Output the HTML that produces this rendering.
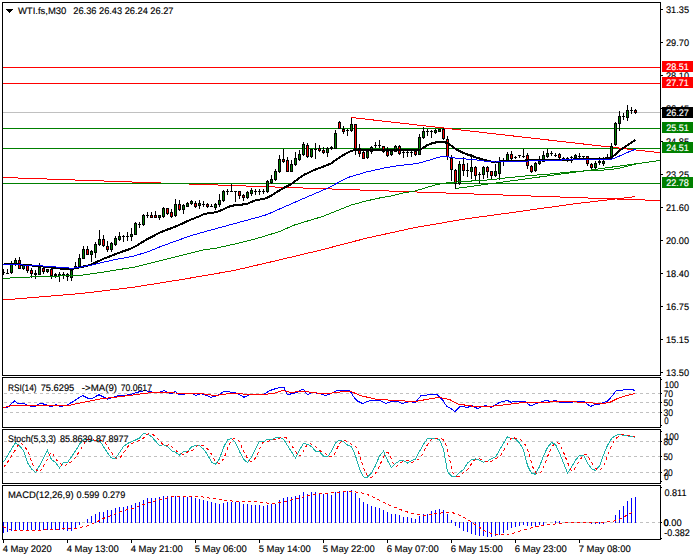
<!DOCTYPE html>
<html><head><meta charset="utf-8"><title>WTI.fs M30</title>
<style>html,body{margin:0;padding:0;background:#fff}svg{display:block}text{white-space:pre}</style></head>
<body>
<svg width="700" height="560" viewBox="0 0 700 560" font-family="'Liberation Sans', sans-serif" shape-rendering="crispEdges" text-rendering="geometricPrecision">
<rect width="700" height="560" fill="#fff"/>
<g clip-path="url(#cm)">
<defs><clipPath id="cm"><rect x="3" y="3" width="657" height="372"/></clipPath></defs>
<polyline points="3.00,177.47 660.00,200.53" fill="none" stroke="#ff0000" stroke-width="1" />
<rect x="3" y="67" width="657" height="1" fill="#ff0000"/>
<rect x="3" y="83" width="657" height="1" fill="#ff0000"/>
<rect x="3" y="112" width="657" height="1" fill="#c0c0c0"/>
<rect x="3" y="128" width="657" height="1" fill="#008000"/>
<rect x="3" y="148" width="657" height="1" fill="#008000"/>
<rect x="3" y="183" width="657" height="1" fill="#008000"/>
<polyline points="351.00,117.43 660.00,152.75" fill="none" stroke="#ff0000" stroke-width="1" />
<polyline points="455.30,188.55 660.00,160.50" fill="none" stroke="#008000" stroke-width="1" />
<rect x="3" y="269" width="1" height="6" fill="#000"/>
<rect x="2" y="272" width="3" height="1" fill="#000"/>
<rect x="7" y="269" width="1" height="5" fill="#000"/>
<rect x="6" y="273" width="3" height="1" fill="#000"/>
<rect x="11" y="261" width="1" height="13" fill="#000"/>
<rect x="10" y="264" width="3" height="9" fill="#000"/>
<rect x="11" y="265" width="1" height="7" fill="#008000"/>
<rect x="15" y="258" width="1" height="8" fill="#000"/>
<rect x="14" y="260" width="3" height="5" fill="#000"/>
<rect x="15" y="261" width="1" height="3" fill="#008000"/>
<rect x="19" y="257" width="1" height="12" fill="#000"/>
<rect x="18" y="260" width="3" height="9" fill="#000"/>
<rect x="19" y="261" width="1" height="7" fill="#ff0000"/>
<rect x="23" y="264" width="1" height="6" fill="#000"/>
<rect x="22" y="265" width="3" height="4" fill="#000"/>
<rect x="23" y="266" width="1" height="2" fill="#008000"/>
<rect x="27" y="264" width="1" height="9" fill="#000"/>
<rect x="26" y="265" width="3" height="6" fill="#000"/>
<rect x="27" y="266" width="1" height="4" fill="#ff0000"/>
<rect x="31" y="268" width="1" height="10" fill="#000"/>
<rect x="30" y="270" width="3" height="4" fill="#000"/>
<rect x="31" y="271" width="1" height="2" fill="#ff0000"/>
<rect x="35" y="270" width="1" height="9" fill="#000"/>
<rect x="34" y="273" width="3" height="2" fill="#000"/>
<rect x="39" y="263" width="1" height="12" fill="#000"/>
<rect x="38" y="267" width="3" height="8" fill="#000"/>
<rect x="39" y="268" width="1" height="6" fill="#008000"/>
<rect x="43" y="267" width="1" height="7" fill="#000"/>
<rect x="42" y="268" width="3" height="4" fill="#000"/>
<rect x="43" y="269" width="1" height="2" fill="#ff0000"/>
<rect x="47" y="269" width="1" height="4" fill="#000"/>
<rect x="46" y="269" width="3" height="3" fill="#000"/>
<rect x="47" y="270" width="1" height="1" fill="#008000"/>
<rect x="51" y="268" width="1" height="11" fill="#000"/>
<rect x="50" y="269" width="3" height="7" fill="#000"/>
<rect x="51" y="270" width="1" height="5" fill="#ff0000"/>
<rect x="55" y="273" width="1" height="5" fill="#000"/>
<rect x="54" y="274" width="3" height="2" fill="#000"/>
<rect x="59" y="272" width="1" height="10" fill="#000"/>
<rect x="58" y="274" width="3" height="2" fill="#000"/>
<rect x="63" y="272" width="1" height="7" fill="#000"/>
<rect x="62" y="274" width="3" height="2" fill="#000"/>
<rect x="67" y="273" width="1" height="8" fill="#000"/>
<rect x="66" y="274" width="3" height="3" fill="#000"/>
<rect x="67" y="275" width="1" height="1" fill="#ff0000"/>
<rect x="71" y="270" width="1" height="11" fill="#000"/>
<rect x="70" y="270" width="3" height="8" fill="#000"/>
<rect x="71" y="271" width="1" height="6" fill="#008000"/>
<rect x="75" y="262" width="1" height="7" fill="#000"/>
<rect x="74" y="266" width="3" height="2" fill="#000"/>
<rect x="79" y="254" width="1" height="13" fill="#000"/>
<rect x="78" y="258" width="3" height="9" fill="#000"/>
<rect x="79" y="259" width="1" height="7" fill="#008000"/>
<rect x="83" y="246" width="1" height="13" fill="#000"/>
<rect x="82" y="249" width="3" height="10" fill="#000"/>
<rect x="83" y="250" width="1" height="8" fill="#008000"/>
<rect x="87" y="246" width="1" height="9" fill="#000"/>
<rect x="86" y="249" width="3" height="6" fill="#000"/>
<rect x="87" y="250" width="1" height="4" fill="#ff0000"/>
<rect x="91" y="250" width="1" height="12" fill="#000"/>
<rect x="90" y="251" width="3" height="4" fill="#000"/>
<rect x="91" y="252" width="1" height="2" fill="#008000"/>
<rect x="95" y="242" width="1" height="16" fill="#000"/>
<rect x="94" y="244" width="3" height="9" fill="#000"/>
<rect x="95" y="245" width="1" height="7" fill="#008000"/>
<rect x="99" y="230" width="1" height="16" fill="#000"/>
<rect x="98" y="239" width="3" height="6" fill="#000"/>
<rect x="99" y="240" width="1" height="4" fill="#008000"/>
<rect x="103" y="235" width="1" height="12" fill="#000"/>
<rect x="102" y="239" width="3" height="7" fill="#000"/>
<rect x="103" y="240" width="1" height="5" fill="#ff0000"/>
<rect x="107" y="241" width="1" height="11" fill="#000"/>
<rect x="106" y="246" width="3" height="4" fill="#000"/>
<rect x="107" y="247" width="1" height="2" fill="#ff0000"/>
<rect x="111" y="242" width="1" height="10" fill="#000"/>
<rect x="110" y="243" width="3" height="7" fill="#000"/>
<rect x="111" y="244" width="1" height="5" fill="#008000"/>
<rect x="115" y="236" width="1" height="10" fill="#000"/>
<rect x="114" y="238" width="3" height="7" fill="#000"/>
<rect x="115" y="239" width="1" height="5" fill="#008000"/>
<rect x="119" y="232" width="1" height="9" fill="#000"/>
<rect x="118" y="236" width="3" height="4" fill="#000"/>
<rect x="119" y="237" width="1" height="2" fill="#008000"/>
<rect x="123" y="235" width="1" height="7" fill="#000"/>
<rect x="122" y="236" width="3" height="1" fill="#000"/>
<rect x="127" y="232" width="1" height="9" fill="#000"/>
<rect x="126" y="236" width="3" height="1" fill="#000"/>
<rect x="131" y="228" width="1" height="13" fill="#000"/>
<rect x="130" y="234" width="3" height="3" fill="#000"/>
<rect x="131" y="235" width="1" height="1" fill="#008000"/>
<rect x="135" y="222" width="1" height="13" fill="#000"/>
<rect x="134" y="223" width="3" height="12" fill="#000"/>
<rect x="135" y="224" width="1" height="10" fill="#008000"/>
<rect x="139" y="222" width="1" height="6" fill="#000"/>
<rect x="138" y="224" width="3" height="1" fill="#000"/>
<rect x="143" y="214" width="1" height="12" fill="#000"/>
<rect x="142" y="215" width="3" height="10" fill="#000"/>
<rect x="143" y="216" width="1" height="8" fill="#008000"/>
<rect x="147" y="212" width="1" height="6" fill="#000"/>
<rect x="146" y="215" width="3" height="1" fill="#000"/>
<rect x="151" y="212" width="1" height="6" fill="#000"/>
<rect x="150" y="215" width="3" height="3" fill="#000"/>
<rect x="151" y="216" width="1" height="1" fill="#ff0000"/>
<rect x="155" y="211" width="1" height="7" fill="#000"/>
<rect x="154" y="215" width="3" height="3" fill="#000"/>
<rect x="155" y="216" width="1" height="1" fill="#ff0000"/>
<rect x="159" y="215" width="1" height="5" fill="#000"/>
<rect x="158" y="215" width="3" height="3" fill="#000"/>
<rect x="159" y="216" width="1" height="1" fill="#008000"/>
<rect x="163" y="207" width="1" height="11" fill="#000"/>
<rect x="162" y="208" width="3" height="9" fill="#000"/>
<rect x="163" y="209" width="1" height="7" fill="#008000"/>
<rect x="167" y="208" width="1" height="7" fill="#000"/>
<rect x="166" y="208" width="3" height="6" fill="#000"/>
<rect x="167" y="209" width="1" height="4" fill="#ff0000"/>
<rect x="171" y="209" width="1" height="9" fill="#000"/>
<rect x="170" y="212" width="3" height="5" fill="#000"/>
<rect x="171" y="213" width="1" height="3" fill="#ff0000"/>
<rect x="175" y="199" width="1" height="18" fill="#000"/>
<rect x="174" y="204" width="3" height="12" fill="#000"/>
<rect x="175" y="205" width="1" height="10" fill="#008000"/>
<rect x="179" y="200" width="1" height="11" fill="#000"/>
<rect x="178" y="204" width="3" height="6" fill="#000"/>
<rect x="179" y="205" width="1" height="4" fill="#ff0000"/>
<rect x="183" y="204" width="1" height="10" fill="#000"/>
<rect x="182" y="205" width="3" height="5" fill="#000"/>
<rect x="183" y="206" width="1" height="3" fill="#008000"/>
<rect x="187" y="202" width="1" height="5" fill="#000"/>
<rect x="186" y="203" width="3" height="4" fill="#000"/>
<rect x="187" y="204" width="1" height="2" fill="#008000"/>
<rect x="191" y="200" width="1" height="5" fill="#000"/>
<rect x="190" y="201" width="3" height="3" fill="#000"/>
<rect x="191" y="202" width="1" height="1" fill="#008000"/>
<rect x="195" y="201" width="1" height="7" fill="#000"/>
<rect x="194" y="203" width="3" height="4" fill="#000"/>
<rect x="195" y="204" width="1" height="2" fill="#ff0000"/>
<rect x="199" y="200" width="1" height="9" fill="#000"/>
<rect x="198" y="203" width="3" height="3" fill="#000"/>
<rect x="199" y="204" width="1" height="1" fill="#008000"/>
<rect x="203" y="201" width="1" height="6" fill="#000"/>
<rect x="202" y="204" width="3" height="1" fill="#000"/>
<rect x="207" y="203" width="1" height="5" fill="#000"/>
<rect x="206" y="204" width="3" height="3" fill="#000"/>
<rect x="207" y="205" width="1" height="1" fill="#ff0000"/>
<rect x="211" y="204" width="1" height="3" fill="#000"/>
<rect x="210" y="206" width="3" height="1" fill="#000"/>
<rect x="215" y="203" width="1" height="7" fill="#000"/>
<rect x="214" y="204" width="3" height="4" fill="#000"/>
<rect x="215" y="205" width="1" height="2" fill="#008000"/>
<rect x="219" y="194" width="1" height="13" fill="#000"/>
<rect x="218" y="200" width="3" height="5" fill="#000"/>
<rect x="219" y="201" width="1" height="3" fill="#008000"/>
<rect x="223" y="190" width="1" height="12" fill="#000"/>
<rect x="222" y="191" width="3" height="10" fill="#000"/>
<rect x="223" y="192" width="1" height="8" fill="#008000"/>
<rect x="227" y="189" width="1" height="6" fill="#000"/>
<rect x="226" y="191" width="3" height="1" fill="#000"/>
<rect x="231" y="184" width="1" height="8" fill="#000"/>
<rect x="230" y="191" width="3" height="1" fill="#000"/>
<rect x="235" y="191" width="1" height="11" fill="#000"/>
<rect x="234" y="191" width="3" height="1" fill="#000"/>
<rect x="239" y="191" width="1" height="8" fill="#000"/>
<rect x="238" y="191" width="3" height="5" fill="#000"/>
<rect x="239" y="192" width="1" height="3" fill="#ff0000"/>
<rect x="243" y="194" width="1" height="7" fill="#000"/>
<rect x="242" y="195" width="3" height="3" fill="#000"/>
<rect x="243" y="196" width="1" height="1" fill="#ff0000"/>
<rect x="247" y="191" width="1" height="8" fill="#000"/>
<rect x="246" y="192" width="3" height="6" fill="#000"/>
<rect x="247" y="193" width="1" height="4" fill="#008000"/>
<rect x="251" y="188" width="1" height="8" fill="#000"/>
<rect x="250" y="190" width="3" height="4" fill="#000"/>
<rect x="251" y="191" width="1" height="2" fill="#008000"/>
<rect x="255" y="189" width="1" height="6" fill="#000"/>
<rect x="254" y="191" width="3" height="1" fill="#000"/>
<rect x="259" y="189" width="1" height="6" fill="#000"/>
<rect x="258" y="191" width="3" height="1" fill="#000"/>
<rect x="263" y="189" width="1" height="5" fill="#000"/>
<rect x="262" y="191" width="3" height="1" fill="#000"/>
<rect x="267" y="180" width="1" height="13" fill="#000"/>
<rect x="266" y="181" width="3" height="11" fill="#000"/>
<rect x="267" y="182" width="1" height="9" fill="#008000"/>
<rect x="271" y="175" width="1" height="9" fill="#000"/>
<rect x="270" y="179" width="3" height="4" fill="#000"/>
<rect x="271" y="180" width="1" height="2" fill="#008000"/>
<rect x="275" y="169" width="1" height="12" fill="#000"/>
<rect x="274" y="171" width="3" height="9" fill="#000"/>
<rect x="275" y="172" width="1" height="7" fill="#008000"/>
<rect x="279" y="155" width="1" height="18" fill="#000"/>
<rect x="278" y="159" width="3" height="13" fill="#000"/>
<rect x="279" y="160" width="1" height="11" fill="#008000"/>
<rect x="283" y="149" width="1" height="14" fill="#000"/>
<rect x="282" y="159" width="3" height="3" fill="#000"/>
<rect x="283" y="160" width="1" height="1" fill="#ff0000"/>
<rect x="287" y="157" width="1" height="15" fill="#000"/>
<rect x="286" y="160" width="3" height="12" fill="#000"/>
<rect x="287" y="161" width="1" height="10" fill="#ff0000"/>
<rect x="291" y="160" width="1" height="12" fill="#000"/>
<rect x="290" y="164" width="3" height="8" fill="#000"/>
<rect x="291" y="165" width="1" height="6" fill="#008000"/>
<rect x="295" y="152" width="1" height="14" fill="#000"/>
<rect x="294" y="158" width="3" height="7" fill="#000"/>
<rect x="295" y="159" width="1" height="5" fill="#008000"/>
<rect x="299" y="150" width="1" height="11" fill="#000"/>
<rect x="298" y="154" width="3" height="6" fill="#000"/>
<rect x="299" y="155" width="1" height="4" fill="#008000"/>
<rect x="303" y="142" width="1" height="14" fill="#000"/>
<rect x="302" y="144" width="3" height="11" fill="#000"/>
<rect x="303" y="145" width="1" height="9" fill="#008000"/>
<rect x="307" y="143" width="1" height="15" fill="#000"/>
<rect x="306" y="145" width="3" height="12" fill="#000"/>
<rect x="307" y="146" width="1" height="10" fill="#ff0000"/>
<rect x="311" y="149" width="1" height="9" fill="#000"/>
<rect x="310" y="149" width="3" height="8" fill="#000"/>
<rect x="311" y="150" width="1" height="6" fill="#008000"/>
<rect x="315" y="143" width="1" height="16" fill="#000"/>
<rect x="314" y="149" width="3" height="1" fill="#000"/>
<rect x="319" y="145" width="1" height="7" fill="#000"/>
<rect x="318" y="148" width="3" height="3" fill="#000"/>
<rect x="319" y="149" width="1" height="1" fill="#ff0000"/>
<rect x="323" y="147" width="1" height="7" fill="#000"/>
<rect x="322" y="150" width="3" height="3" fill="#000"/>
<rect x="323" y="151" width="1" height="1" fill="#ff0000"/>
<rect x="327" y="147" width="1" height="10" fill="#000"/>
<rect x="326" y="148" width="3" height="5" fill="#000"/>
<rect x="327" y="149" width="1" height="3" fill="#008000"/>
<rect x="331" y="146" width="1" height="4" fill="#000"/>
<rect x="330" y="147" width="3" height="2" fill="#000"/>
<rect x="335" y="130" width="1" height="19" fill="#000"/>
<rect x="334" y="133" width="3" height="16" fill="#000"/>
<rect x="335" y="134" width="1" height="14" fill="#008000"/>
<rect x="339" y="121" width="1" height="8" fill="#000"/>
<rect x="338" y="122" width="3" height="7" fill="#000"/>
<rect x="339" y="123" width="1" height="5" fill="#ff0000"/>
<rect x="343" y="126" width="1" height="8" fill="#000"/>
<rect x="342" y="129" width="3" height="3" fill="#000"/>
<rect x="343" y="130" width="1" height="1" fill="#ff0000"/>
<rect x="347" y="129" width="1" height="7" fill="#000"/>
<rect x="346" y="130" width="3" height="1" fill="#000"/>
<rect x="351" y="118" width="1" height="14" fill="#000"/>
<rect x="350" y="124" width="3" height="7" fill="#000"/>
<rect x="351" y="125" width="1" height="5" fill="#008000"/>
<rect x="355" y="124" width="1" height="31" fill="#000"/>
<rect x="354" y="124" width="3" height="25" fill="#000"/>
<rect x="355" y="125" width="1" height="23" fill="#ff0000"/>
<rect x="359" y="144" width="1" height="13" fill="#000"/>
<rect x="358" y="148" width="3" height="6" fill="#000"/>
<rect x="359" y="149" width="1" height="4" fill="#ff0000"/>
<rect x="363" y="151" width="1" height="8" fill="#000"/>
<rect x="362" y="152" width="3" height="7" fill="#000"/>
<rect x="363" y="153" width="1" height="5" fill="#ff0000"/>
<rect x="367" y="151" width="1" height="8" fill="#000"/>
<rect x="366" y="151" width="3" height="7" fill="#000"/>
<rect x="367" y="152" width="1" height="5" fill="#008000"/>
<rect x="371" y="146" width="1" height="8" fill="#000"/>
<rect x="370" y="147" width="3" height="5" fill="#000"/>
<rect x="371" y="148" width="1" height="3" fill="#008000"/>
<rect x="375" y="142" width="1" height="6" fill="#000"/>
<rect x="374" y="145" width="3" height="1" fill="#000"/>
<rect x="379" y="140" width="1" height="8" fill="#000"/>
<rect x="378" y="145" width="3" height="1" fill="#000"/>
<rect x="383" y="146" width="1" height="7" fill="#000"/>
<rect x="382" y="146" width="3" height="6" fill="#000"/>
<rect x="383" y="147" width="1" height="4" fill="#ff0000"/>
<rect x="387" y="147" width="1" height="10" fill="#000"/>
<rect x="386" y="151" width="3" height="5" fill="#000"/>
<rect x="387" y="152" width="1" height="3" fill="#ff0000"/>
<rect x="391" y="150" width="1" height="6" fill="#000"/>
<rect x="390" y="151" width="3" height="4" fill="#000"/>
<rect x="391" y="152" width="1" height="2" fill="#008000"/>
<rect x="395" y="145" width="1" height="7" fill="#000"/>
<rect x="394" y="146" width="3" height="6" fill="#000"/>
<rect x="395" y="147" width="1" height="4" fill="#008000"/>
<rect x="399" y="145" width="1" height="10" fill="#000"/>
<rect x="398" y="146" width="3" height="8" fill="#000"/>
<rect x="399" y="147" width="1" height="6" fill="#ff0000"/>
<rect x="403" y="151" width="1" height="7" fill="#000"/>
<rect x="402" y="152" width="3" height="1" fill="#000"/>
<rect x="407" y="151" width="1" height="6" fill="#000"/>
<rect x="406" y="152" width="3" height="1" fill="#000"/>
<rect x="411" y="151" width="1" height="6" fill="#000"/>
<rect x="410" y="152" width="3" height="1" fill="#000"/>
<rect x="415" y="151" width="1" height="5" fill="#000"/>
<rect x="414" y="151" width="3" height="4" fill="#000"/>
<rect x="415" y="152" width="1" height="2" fill="#ff0000"/>
<rect x="419" y="134" width="1" height="21" fill="#000"/>
<rect x="418" y="137" width="3" height="18" fill="#000"/>
<rect x="419" y="138" width="1" height="16" fill="#008000"/>
<rect x="423" y="127" width="1" height="12" fill="#000"/>
<rect x="422" y="131" width="3" height="7" fill="#000"/>
<rect x="423" y="132" width="1" height="5" fill="#008000"/>
<rect x="427" y="129" width="1" height="7" fill="#000"/>
<rect x="426" y="131" width="3" height="1" fill="#000"/>
<rect x="431" y="130" width="1" height="8" fill="#000"/>
<rect x="430" y="131" width="3" height="1" fill="#000"/>
<rect x="435" y="129" width="1" height="5" fill="#000"/>
<rect x="434" y="130" width="3" height="3" fill="#000"/>
<rect x="435" y="131" width="1" height="1" fill="#008000"/>
<rect x="439" y="129" width="1" height="3" fill="#000"/>
<rect x="438" y="129" width="3" height="3" fill="#000"/>
<rect x="439" y="130" width="1" height="1" fill="#008000"/>
<rect x="443" y="128" width="1" height="12" fill="#000"/>
<rect x="442" y="129" width="3" height="10" fill="#000"/>
<rect x="443" y="130" width="1" height="8" fill="#ff0000"/>
<rect x="447" y="136" width="1" height="24" fill="#000"/>
<rect x="446" y="139" width="3" height="18" fill="#000"/>
<rect x="447" y="140" width="1" height="16" fill="#ff0000"/>
<rect x="451" y="155" width="1" height="26" fill="#000"/>
<rect x="450" y="158" width="3" height="12" fill="#000"/>
<rect x="451" y="159" width="1" height="10" fill="#ff0000"/>
<rect x="455" y="169" width="1" height="20" fill="#000"/>
<rect x="454" y="170" width="3" height="14" fill="#000"/>
<rect x="455" y="171" width="1" height="12" fill="#ff0000"/>
<rect x="459" y="161" width="1" height="24" fill="#000"/>
<rect x="458" y="164" width="3" height="20" fill="#000"/>
<rect x="459" y="165" width="1" height="18" fill="#008000"/>
<rect x="463" y="157" width="1" height="19" fill="#000"/>
<rect x="462" y="164" width="3" height="7" fill="#000"/>
<rect x="463" y="165" width="1" height="5" fill="#ff0000"/>
<rect x="467" y="163" width="1" height="14" fill="#000"/>
<rect x="466" y="170" width="3" height="1" fill="#000"/>
<rect x="471" y="154" width="1" height="25" fill="#000"/>
<rect x="470" y="167" width="3" height="5" fill="#000"/>
<rect x="471" y="168" width="1" height="3" fill="#008000"/>
<rect x="475" y="166" width="1" height="14" fill="#000"/>
<rect x="474" y="167" width="3" height="9" fill="#000"/>
<rect x="475" y="168" width="1" height="7" fill="#ff0000"/>
<rect x="479" y="172" width="1" height="12" fill="#000"/>
<rect x="478" y="174" width="3" height="1" fill="#000"/>
<rect x="483" y="166" width="1" height="13" fill="#000"/>
<rect x="482" y="167" width="3" height="8" fill="#000"/>
<rect x="483" y="168" width="1" height="6" fill="#008000"/>
<rect x="487" y="166" width="1" height="12" fill="#000"/>
<rect x="486" y="167" width="3" height="5" fill="#000"/>
<rect x="487" y="168" width="1" height="3" fill="#ff0000"/>
<rect x="491" y="171" width="1" height="9" fill="#000"/>
<rect x="490" y="171" width="3" height="5" fill="#000"/>
<rect x="491" y="172" width="1" height="3" fill="#ff0000"/>
<rect x="495" y="164" width="1" height="13" fill="#000"/>
<rect x="494" y="171" width="3" height="5" fill="#000"/>
<rect x="495" y="172" width="1" height="3" fill="#008000"/>
<rect x="499" y="157" width="1" height="23" fill="#000"/>
<rect x="498" y="162" width="3" height="12" fill="#000"/>
<rect x="499" y="163" width="1" height="10" fill="#008000"/>
<rect x="503" y="158" width="1" height="8" fill="#000"/>
<rect x="502" y="161" width="3" height="1" fill="#000"/>
<rect x="507" y="152" width="1" height="10" fill="#000"/>
<rect x="506" y="154" width="3" height="8" fill="#000"/>
<rect x="507" y="155" width="1" height="6" fill="#008000"/>
<rect x="511" y="151" width="1" height="9" fill="#000"/>
<rect x="510" y="154" width="3" height="5" fill="#000"/>
<rect x="511" y="155" width="1" height="3" fill="#ff0000"/>
<rect x="515" y="156" width="1" height="3" fill="#000"/>
<rect x="514" y="157" width="3" height="1" fill="#000"/>
<rect x="519" y="155" width="1" height="3" fill="#000"/>
<rect x="518" y="155" width="3" height="1" fill="#000"/>
<rect x="523" y="149" width="1" height="9" fill="#000"/>
<rect x="522" y="156" width="3" height="1" fill="#000"/>
<rect x="527" y="153" width="1" height="16" fill="#000"/>
<rect x="526" y="155" width="3" height="11" fill="#000"/>
<rect x="527" y="156" width="1" height="9" fill="#ff0000"/>
<rect x="531" y="165" width="1" height="8" fill="#000"/>
<rect x="530" y="166" width="3" height="6" fill="#000"/>
<rect x="531" y="167" width="1" height="4" fill="#ff0000"/>
<rect x="535" y="162" width="1" height="10" fill="#000"/>
<rect x="534" y="163" width="3" height="8" fill="#000"/>
<rect x="535" y="164" width="1" height="6" fill="#008000"/>
<rect x="539" y="156" width="1" height="9" fill="#000"/>
<rect x="538" y="161" width="3" height="3" fill="#000"/>
<rect x="539" y="162" width="1" height="1" fill="#008000"/>
<rect x="543" y="151" width="1" height="11" fill="#000"/>
<rect x="542" y="155" width="3" height="7" fill="#000"/>
<rect x="543" y="156" width="1" height="5" fill="#008000"/>
<rect x="547" y="149" width="1" height="9" fill="#000"/>
<rect x="546" y="153" width="3" height="4" fill="#000"/>
<rect x="547" y="154" width="1" height="2" fill="#008000"/>
<rect x="551" y="151" width="1" height="5" fill="#000"/>
<rect x="550" y="153" width="3" height="1" fill="#000"/>
<rect x="555" y="153" width="1" height="4" fill="#000"/>
<rect x="554" y="155" width="3" height="1" fill="#000"/>
<rect x="559" y="153" width="1" height="6" fill="#000"/>
<rect x="558" y="154" width="3" height="4" fill="#000"/>
<rect x="559" y="155" width="1" height="2" fill="#ff0000"/>
<rect x="563" y="157" width="1" height="4" fill="#000"/>
<rect x="562" y="158" width="3" height="1" fill="#000"/>
<rect x="567" y="157" width="1" height="5" fill="#000"/>
<rect x="566" y="158" width="3" height="1" fill="#000"/>
<rect x="571" y="156" width="1" height="7" fill="#000"/>
<rect x="570" y="157" width="3" height="1" fill="#000"/>
<rect x="575" y="154" width="1" height="5" fill="#000"/>
<rect x="574" y="155" width="3" height="3" fill="#000"/>
<rect x="575" y="156" width="1" height="1" fill="#008000"/>
<rect x="579" y="153" width="1" height="6" fill="#000"/>
<rect x="578" y="156" width="3" height="1" fill="#000"/>
<rect x="583" y="156" width="1" height="3" fill="#000"/>
<rect x="582" y="156" width="3" height="1" fill="#000"/>
<rect x="587" y="156" width="1" height="10" fill="#000"/>
<rect x="586" y="156" width="3" height="8" fill="#000"/>
<rect x="587" y="157" width="1" height="6" fill="#ff0000"/>
<rect x="591" y="163" width="1" height="6" fill="#000"/>
<rect x="590" y="164" width="3" height="4" fill="#000"/>
<rect x="591" y="165" width="1" height="2" fill="#ff0000"/>
<rect x="595" y="161" width="1" height="8" fill="#000"/>
<rect x="594" y="163" width="3" height="5" fill="#000"/>
<rect x="595" y="164" width="1" height="3" fill="#008000"/>
<rect x="599" y="157" width="1" height="8" fill="#000"/>
<rect x="598" y="161" width="3" height="2" fill="#000"/>
<rect x="603" y="157" width="1" height="9" fill="#000"/>
<rect x="602" y="161" width="3" height="3" fill="#000"/>
<rect x="603" y="162" width="1" height="1" fill="#008000"/>
<rect x="607" y="154" width="1" height="6" fill="#000"/>
<rect x="606" y="157" width="3" height="3" fill="#000"/>
<rect x="607" y="158" width="1" height="1" fill="#008000"/>
<rect x="611" y="143" width="1" height="16" fill="#000"/>
<rect x="610" y="146" width="3" height="13" fill="#000"/>
<rect x="611" y="147" width="1" height="11" fill="#008000"/>
<rect x="615" y="122" width="1" height="24" fill="#000"/>
<rect x="614" y="123" width="3" height="22" fill="#000"/>
<rect x="615" y="124" width="1" height="20" fill="#008000"/>
<rect x="619" y="111" width="1" height="20" fill="#000"/>
<rect x="618" y="116" width="3" height="8" fill="#000"/>
<rect x="619" y="117" width="1" height="6" fill="#008000"/>
<rect x="623" y="113" width="1" height="7" fill="#000"/>
<rect x="622" y="116" width="3" height="1" fill="#000"/>
<rect x="627" y="105" width="1" height="16" fill="#000"/>
<rect x="626" y="110" width="3" height="8" fill="#000"/>
<rect x="627" y="111" width="1" height="6" fill="#008000"/>
<rect x="631" y="107" width="1" height="7" fill="#000"/>
<rect x="630" y="110" width="3" height="1" fill="#000"/>
<rect x="635" y="109" width="1" height="5" fill="#000"/>
<rect x="634" y="110" width="3" height="3" fill="#000"/>
<rect x="635" y="111" width="1" height="1" fill="#ff0000"/>
<polyline points="3.50,299.96 7.50,299.63 11.50,299.30 15.50,298.97 19.50,298.64 23.50,298.31 27.50,297.98 31.50,297.65 35.50,297.32 39.50,296.99 43.50,296.66 47.50,296.32 51.50,295.98 55.50,295.64 59.50,295.30 63.50,294.96 67.50,294.62 71.50,294.28 75.50,293.94 79.50,293.60 83.50,293.24 87.50,292.76 91.50,292.28 95.50,291.80 99.50,291.32 103.50,290.84 107.50,290.36 111.50,289.88 115.50,289.40 119.50,288.92 123.50,288.44 127.50,287.96 131.50,287.48 135.50,286.90 139.50,286.26 143.50,285.62 147.50,284.98 151.50,284.34 155.50,283.70 159.50,283.06 163.50,282.42 167.50,281.78 171.50,281.14 175.50,280.50 179.50,279.86 183.50,279.21 187.50,278.53 191.50,277.84 195.50,277.15 199.50,276.46 203.50,275.77 207.50,275.09 211.50,274.40 215.50,273.71 219.50,273.02 223.50,272.33 227.50,271.65 231.50,270.96 235.50,270.12 239.50,269.19 243.50,268.27 247.50,267.34 251.50,266.41 255.50,265.48 259.50,264.56 263.50,263.63 267.50,262.70 271.50,261.77 275.50,260.85 279.50,259.90 283.50,258.95 287.50,257.99 291.50,257.04 295.50,256.09 299.50,255.13 303.50,254.18 307.50,253.22 311.50,252.27 315.50,251.31 319.50,250.36 323.50,249.35 327.50,248.31 331.50,247.27 335.50,246.23 339.50,245.19 343.50,244.15 347.50,243.11 351.50,242.07 355.50,241.03 359.50,239.99 363.50,238.95 367.50,237.97 371.50,237.09 375.50,236.21 379.50,235.33 383.50,234.45 387.50,233.57 391.50,232.69 395.50,231.81 399.50,230.93 403.50,230.05 407.50,229.17 411.50,228.29 415.50,227.41 419.50,226.72 423.50,226.05 427.50,225.38 431.50,224.72 435.50,224.05 439.50,223.38 443.50,222.69 447.50,222.00 451.50,221.31 455.50,220.62 459.50,219.93 463.50,219.23 467.50,218.60 471.50,218.06 475.50,217.52 479.50,216.98 483.50,216.44 487.50,215.89 491.50,215.35 495.50,214.81 499.50,214.27 503.50,213.73 507.50,213.19 511.50,212.63 515.50,212.07 519.50,211.50 523.50,210.94 527.50,210.38 531.50,209.82 535.50,209.26 539.50,208.70 543.50,208.14 547.50,207.58 551.50,207.02 555.50,206.45 559.50,205.89 563.50,205.33 567.50,204.77 571.50,204.21 575.50,203.71 579.50,203.23 583.50,202.76 587.50,202.29 591.50,201.82 595.50,201.35 599.50,200.88 603.50,200.41 607.50,199.94 611.50,199.47 615.50,199.00 619.50,198.52 623.50,198.05 627.50,197.58 631.50,197.11 635.50,196.70" fill="none" stroke="#ff0000" stroke-width="1" />
<polyline points="3.50,278.37 7.50,278.14 11.50,277.90 15.50,277.66 19.50,277.43 23.50,277.26 27.50,277.10 31.50,276.94 35.50,276.78 39.50,276.62 43.50,276.50 47.50,276.38 51.50,276.25 55.50,276.13 59.50,276.01 63.50,275.89 67.50,275.77 71.50,275.65 75.50,275.53 79.50,275.41 83.50,274.91 87.50,274.35 91.50,273.79 95.50,273.23 99.50,272.67 103.50,272.04 107.50,271.40 111.50,270.76 115.50,270.12 119.50,269.48 123.50,268.84 127.50,268.20 131.50,267.56 135.50,266.88 139.50,265.88 143.50,264.88 147.50,263.88 151.50,262.88 155.50,261.88 159.50,260.88 163.50,259.88 167.50,258.88 171.50,257.88 175.50,256.88 179.50,255.88 183.50,254.88 187.50,253.88 191.50,252.88 195.50,251.88 199.50,250.92 203.50,249.96 207.50,249.30 211.50,248.82 215.50,248.29 219.50,247.41 223.50,246.53 227.50,245.65 231.50,244.77 235.50,243.88 239.50,242.88 243.50,241.88 247.50,240.88 251.50,239.88 255.50,238.85 259.50,237.65 263.50,236.45 267.50,235.25 271.50,234.03 275.50,232.80 279.50,231.56 283.50,229.83 287.50,228.04 291.50,226.25 295.50,224.64 299.50,223.44 303.50,222.23 307.50,221.03 311.50,219.83 315.50,218.63 319.50,217.42 323.50,216.16 327.50,214.55 331.50,212.95 335.50,211.34 339.50,209.74 343.50,208.15 347.50,206.55 351.50,204.97 355.50,203.88 359.50,202.79 363.50,201.70 367.50,200.70 371.50,199.80 375.50,198.91 379.50,198.01 383.50,197.31 387.50,196.62 391.50,195.84 395.50,194.88 399.50,193.92 403.50,192.96 407.50,192.20 411.50,191.56 415.50,190.85 419.50,189.65 423.50,188.45 427.50,187.25 431.50,186.05 435.50,184.90 439.50,184.10 443.50,183.30 447.50,182.78 451.50,182.43 455.50,182.11 459.50,181.80 463.50,181.49 467.50,181.22 471.50,181.01 475.50,180.79 479.50,180.58 483.50,180.30 487.50,179.97 491.50,179.64 495.50,179.16 499.50,178.66 503.50,178.19 507.50,177.73 511.50,177.34 515.50,176.98 519.50,176.60 523.50,176.16 527.50,175.72 531.50,175.38 535.50,175.08 539.50,174.79 543.50,174.49 547.50,174.19 551.50,173.85 555.50,173.45 559.50,173.05 563.50,172.65 567.50,172.25 571.50,171.90 575.50,171.62 579.50,171.34 583.50,171.06 587.50,170.78 591.50,170.56 595.50,170.44 599.50,170.31 603.50,170.06 607.50,169.78 611.50,169.36 615.50,168.72 619.50,168.08 623.50,167.12 627.50,166.12 631.50,165.15 635.50,164.30" fill="none" stroke="#008000" stroke-width="1" />
<polyline points="3.50,264.01 7.50,264.13 11.50,264.25 15.50,264.37 19.50,264.49 23.50,264.80 27.50,265.15 31.50,265.50 35.50,265.85 39.50,266.20 43.50,266.56 47.50,267.03 51.50,267.50 55.50,267.97 59.50,268.44 63.50,268.90 67.50,269.24 71.50,268.80 75.50,268.36 79.50,267.43 83.50,266.50 87.50,265.57 91.50,264.31 95.50,262.49 99.50,260.66 103.50,258.83 107.50,257.23 111.50,255.67 115.50,254.11 119.50,252.59 123.50,251.20 127.50,249.81 131.50,248.42 135.50,246.36 139.50,243.91 143.50,241.45 147.50,239.04 151.50,236.95 155.50,234.87 159.50,232.78 163.50,231.07 167.50,229.57 171.50,228.08 175.50,226.59 179.50,224.80 183.50,222.97 187.50,221.14 191.50,219.40 195.50,217.80 199.50,216.20 203.50,214.21 207.50,213.37 211.50,212.84 215.50,212.30 219.50,211.05 223.50,209.23 227.50,207.18 231.50,205.73 235.50,205.29 239.50,204.84 243.50,204.39 247.50,203.76 251.50,201.84 255.50,200.30 259.50,199.63 263.50,198.97 267.50,197.60 271.50,195.38 275.50,192.92 279.50,190.32 283.50,188.16 287.50,186.05 291.50,183.93 295.50,180.93 299.50,177.94 303.50,175.11 307.50,173.18 311.50,171.25 315.50,169.46 319.50,167.98 323.50,166.51 327.50,164.97 331.50,163.32 335.50,160.16 339.50,157.45 343.50,155.04 347.50,152.66 351.50,150.71 355.50,150.00 359.50,150.00 363.50,150.00 367.50,150.00 371.50,150.00 375.50,150.00 379.50,150.00 383.50,150.00 387.50,150.00 391.50,150.00 395.50,150.00 399.50,150.00 403.50,150.00 407.50,150.00 411.50,150.00 415.50,150.00 419.50,150.00 423.50,147.68 427.50,145.03 431.50,143.54 435.50,142.49 439.50,141.93 443.50,141.87 447.50,143.23 451.50,145.91 455.50,148.78 459.50,151.11 463.50,152.85 467.50,154.47 471.50,155.85 475.50,157.23 479.50,158.55 483.50,159.68 487.50,160.80 491.50,161.52 495.50,161.56 499.50,161.50 503.50,161.07 507.50,160.69 511.50,160.65 515.50,160.61 519.50,160.57 523.50,160.53 527.50,160.48 531.50,160.44 535.50,160.40 539.50,160.36 543.50,160.32 547.50,160.23 551.50,160.12 555.50,160.01 559.50,159.89 563.50,159.78 567.50,159.67 571.50,159.56 575.50,159.44 579.50,159.31 583.50,159.19 587.50,159.07 591.50,158.97 595.50,158.89 599.50,158.81 603.50,158.60 607.50,158.38 611.50,157.77 615.50,154.22 619.50,150.47 623.50,147.81 627.50,145.31 631.50,142.50 635.50,140.00" fill="none" stroke="#000" stroke-width="2" />
<polyline points="3.50,264.02 7.50,264.23 11.50,264.43 15.50,264.62 19.50,264.82 23.50,265.02 27.50,265.23 31.50,265.43 35.50,265.62 39.50,265.82 43.50,266.04 47.50,266.35 51.50,266.65 55.50,266.96 59.50,267.26 63.50,267.57 67.50,267.88 71.50,268.19 75.50,267.87 79.50,267.19 83.50,266.51 87.50,265.83 91.50,265.04 95.50,264.06 99.50,263.09 103.50,262.12 107.50,261.25 111.50,260.39 115.50,259.54 119.50,258.74 123.50,258.05 127.50,257.35 131.50,256.66 135.50,255.61 139.50,254.34 143.50,253.06 147.50,251.79 151.50,250.37 155.50,248.70 159.50,247.03 163.50,245.50 167.50,244.06 171.50,242.62 175.50,241.18 179.50,239.75 183.50,238.32 187.50,236.89 191.50,235.55 195.50,234.35 199.50,233.15 203.50,232.05 207.50,230.95 211.50,229.86 215.50,228.77 219.50,227.68 223.50,226.59 227.50,225.50 231.50,224.41 235.50,223.32 239.50,222.23 243.50,221.14 247.50,220.05 251.50,218.95 255.50,217.86 259.50,216.77 263.50,215.68 267.50,214.34 271.50,212.57 275.50,210.81 279.50,209.04 283.50,207.28 287.50,205.51 291.50,203.75 295.50,201.99 299.50,200.22 303.50,198.50 307.50,196.79 311.50,195.07 315.50,193.36 319.50,191.64 323.50,189.93 327.50,188.21 331.50,186.15 335.50,184.04 339.50,181.93 343.50,179.81 347.50,177.68 351.50,176.31 355.50,175.22 359.50,174.14 363.50,172.83 367.50,171.67 371.50,170.81 375.50,169.94 379.50,169.07 383.50,168.21 387.50,167.34 391.50,166.69 395.50,166.13 399.50,165.57 403.50,165.11 407.50,164.66 411.50,164.21 415.50,163.77 419.50,162.91 423.50,161.80 427.50,160.69 431.50,159.53 435.50,158.29 439.50,157.05 443.50,156.08 447.50,156.78 451.50,157.58 455.50,158.06 459.50,158.54 463.50,158.82 467.50,159.08 471.50,159.36 475.50,159.87 479.50,160.38 483.50,160.89 487.50,161.40 491.50,161.91 495.50,162.03 499.50,161.91 503.50,161.80 507.50,161.69 511.50,161.57 515.50,161.46 519.50,161.34 523.50,161.20 527.50,161.04 531.50,160.89 535.50,160.73 539.50,160.57 543.50,160.42 547.50,160.26 551.50,160.16 555.50,160.10 559.50,160.04 563.50,159.97 567.50,159.91 571.50,159.85 575.50,159.79 579.50,159.72 583.50,159.71 587.50,159.72 591.50,159.74 595.50,159.75 599.50,159.77 603.50,159.78 607.50,159.79 611.50,159.05 615.50,157.78 619.50,155.97 623.50,154.18 627.50,152.45 631.50,150.77 635.50,149.30" fill="none" stroke="#0000ff" stroke-width="1" />
</g>
<rect x="2" y="2" width="659" height="1" fill="#000"/>
<rect x="2" y="375" width="659" height="1" fill="#000"/>
<rect x="2" y="2" width="1" height="374" fill="#000"/>
<rect x="660" y="2" width="1" height="374" fill="#000"/>
<rect x="2" y="377" width="659" height="1" fill="#000"/>
<rect x="2" y="427" width="659" height="1" fill="#000"/>
<rect x="2" y="377" width="1" height="51" fill="#000"/>
<rect x="660" y="377" width="1" height="51" fill="#000"/>
<rect x="2" y="429" width="659" height="1" fill="#000"/>
<rect x="2" y="483" width="659" height="1" fill="#000"/>
<rect x="2" y="429" width="1" height="55" fill="#000"/>
<rect x="660" y="429" width="1" height="55" fill="#000"/>
<rect x="2" y="485" width="659" height="1" fill="#000"/>
<rect x="2" y="539" width="659" height="1" fill="#000"/>
<rect x="2" y="485" width="1" height="55" fill="#000"/>
<rect x="660" y="485" width="1" height="55" fill="#000"/>
<rect x="661" y="9" width="2" height="1" fill="#000"/>
<text x="666" y="13" font-size="9.5" fill="#000" stroke="#000" stroke-width="0.15" text-anchor="start" textLength="23" lengthAdjust="spacingAndGlyphs" >31.35</text>
<rect x="661" y="42" width="2" height="1" fill="#000"/>
<text x="666" y="46" font-size="9.5" fill="#000" stroke="#000" stroke-width="0.15" text-anchor="start" textLength="23" lengthAdjust="spacingAndGlyphs" >29.70</text>
<rect x="661" y="75" width="2" height="1" fill="#000"/>
<text x="666" y="79" font-size="9.5" fill="#000" stroke="#000" stroke-width="0.15" text-anchor="start" textLength="23" lengthAdjust="spacingAndGlyphs" >28.10</text>
<rect x="661" y="108" width="2" height="1" fill="#000"/>
<text x="666" y="112" font-size="9.5" fill="#000" stroke="#000" stroke-width="0.15" text-anchor="start" textLength="23" lengthAdjust="spacingAndGlyphs" >26.45</text>
<rect x="661" y="141" width="2" height="1" fill="#000"/>
<text x="666" y="145" font-size="9.5" fill="#000" stroke="#000" stroke-width="0.15" text-anchor="start" textLength="23" lengthAdjust="spacingAndGlyphs" >24.85</text>
<rect x="661" y="174" width="2" height="1" fill="#000"/>
<text x="666" y="178" font-size="9.5" fill="#000" stroke="#000" stroke-width="0.15" text-anchor="start" textLength="23" lengthAdjust="spacingAndGlyphs" >23.25</text>
<rect x="661" y="207" width="2" height="1" fill="#000"/>
<text x="666" y="211" font-size="9.5" fill="#000" stroke="#000" stroke-width="0.15" text-anchor="start" textLength="23" lengthAdjust="spacingAndGlyphs" >21.60</text>
<rect x="661" y="240" width="2" height="1" fill="#000"/>
<text x="666" y="244" font-size="9.5" fill="#000" stroke="#000" stroke-width="0.15" text-anchor="start" textLength="23" lengthAdjust="spacingAndGlyphs" >20.00</text>
<rect x="661" y="273" width="2" height="1" fill="#000"/>
<text x="666" y="277" font-size="9.5" fill="#000" stroke="#000" stroke-width="0.15" text-anchor="start" textLength="23" lengthAdjust="spacingAndGlyphs" >18.40</text>
<rect x="661" y="306" width="2" height="1" fill="#000"/>
<text x="666" y="310" font-size="9.5" fill="#000" stroke="#000" stroke-width="0.15" text-anchor="start" textLength="23" lengthAdjust="spacingAndGlyphs" >16.75</text>
<rect x="661" y="339" width="2" height="1" fill="#000"/>
<text x="666" y="343" font-size="9.5" fill="#000" stroke="#000" stroke-width="0.15" text-anchor="start" textLength="23" lengthAdjust="spacingAndGlyphs" >15.15</text>
<rect x="661" y="372" width="2" height="1" fill="#000"/>
<text x="666" y="376" font-size="9.5" fill="#000" stroke="#000" stroke-width="0.15" text-anchor="start" textLength="23" lengthAdjust="spacingAndGlyphs" >13.50</text>
<rect x="662" y="61" width="31" height="11" fill="#ff0000"/>
<text x="666.3" y="70" font-size="9.5" fill="#fff" stroke="#fff" stroke-width="0.15" text-anchor="start" textLength="22.6" lengthAdjust="spacingAndGlyphs" >28.51</text>
<rect x="662" y="77" width="31" height="11" fill="#ff0000"/>
<text x="666.3" y="86" font-size="9.5" fill="#fff" stroke="#fff" stroke-width="0.15" text-anchor="start" textLength="22.6" lengthAdjust="spacingAndGlyphs" >27.71</text>
<rect x="662" y="107" width="31" height="11" fill="#000"/>
<text x="666.3" y="116" font-size="9.5" fill="#fff" stroke="#fff" stroke-width="0.15" text-anchor="start" textLength="22.6" lengthAdjust="spacingAndGlyphs" >26.27</text>
<rect x="662" y="122" width="31" height="11" fill="#008000"/>
<text x="666.3" y="131" font-size="9.5" fill="#fff" stroke="#fff" stroke-width="0.15" text-anchor="start" textLength="22.6" lengthAdjust="spacingAndGlyphs" >25.51</text>
<rect x="662" y="142" width="31" height="11" fill="#008000"/>
<text x="666.3" y="151" font-size="9.5" fill="#fff" stroke="#fff" stroke-width="0.15" text-anchor="start" textLength="22.6" lengthAdjust="spacingAndGlyphs" >24.51</text>
<rect x="662" y="177" width="31" height="11" fill="#008000"/>
<text x="666.3" y="186" font-size="9.5" fill="#fff" stroke="#fff" stroke-width="0.15" text-anchor="start" textLength="22.6" lengthAdjust="spacingAndGlyphs" >22.78</text>
<rect x="6" y="9" width="7" height="1" fill="#000"/>
<rect x="7" y="10" width="5" height="1" fill="#000"/>
<rect x="8" y="11" width="3" height="1" fill="#000"/>
<rect x="9" y="12" width="1" height="1" fill="#000"/>
<text x="17.9" y="14" font-size="9.5" fill="#000" stroke="#000" stroke-width="0.15" text-anchor="start" textLength="48.5" lengthAdjust="spacingAndGlyphs" >WTI.fs,M30</text>
<text x="73.3" y="14" font-size="9.5" fill="#000" stroke="#000" stroke-width="0.15" text-anchor="start" textLength="100.2" lengthAdjust="spacingAndGlyphs" >26.36 26.43 26.24 26.27</text>
<line x1="4" y1="393.5" x2="660" y2="393.5" stroke="#c0c0c0" stroke-dasharray="3,3"/>
<line x1="4" y1="402.5" x2="660" y2="402.5" stroke="#c0c0c0" stroke-dasharray="3,3"/>
<line x1="4" y1="412.5" x2="660" y2="412.5" stroke="#c0c0c0" stroke-dasharray="3,3"/>
<polyline points="3.00,407.75 7.50,407.25 14.50,401.00 18.75,404.00 23.75,403.00 27.50,405.50 35.00,407.00 40.00,403.00 46.00,404.75 51.00,407.00 56.00,404.75 60.00,406.50 66.00,405.50 72.50,402.00 82.50,395.50 87.50,398.00 91.00,399.00 99.00,394.70 107.50,399.00 117.50,396.00 130.00,394.70 137.50,392.25 145.00,390.50 152.50,392.25 157.50,393.00 164.00,390.50 171.00,394.00 175.00,391.50 180.00,395.00 185.00,394.00 192.50,393.50 196.00,395.50 201.00,393.50 211.00,397.25 217.50,395.50 224.00,391.50 235.00,392.50 244.00,397.25 250.00,394.75 262.50,395.00 270.00,390.50 280.00,387.25 284.00,387.50 287.50,394.75 297.50,392.25 303.00,389.00 307.50,394.75 312.50,392.50 320.00,393.50 325.00,395.50 330.00,394.00 337.50,390.50 350.00,391.00 354.00,397.25 357.50,401.00 362.50,403.50 370.00,400.50 380.00,400.50 386.00,403.50 392.50,401.00 396.00,401.00 402.50,403.50 410.00,401.50 415.00,403.00 421.00,395.50 430.00,394.75 437.50,395.00 442.50,399.75 446.50,406.00 450.00,408.00 455.00,411.50 460.00,406.50 467.50,407.25 472.50,406.00 477.50,408.50 485.00,405.50 491.00,407.25 500.00,402.25 507.50,400.50 511.00,402.25 515.00,401.50 525.00,401.75 531.00,406.00 537.50,403.00 546.00,400.50 551.00,401.50 555.00,400.50 560.00,402.25 567.50,403.00 575.00,401.50 584.00,401.50 590.50,406.50 596.00,404.00 600.00,404.00 607.50,401.00 611.00,397.25 616.00,391.00 625.00,389.75 632.50,389.25 635.00,391.00" fill="none" stroke="#0000ff" stroke-width="1" />
<polyline points="3.00,407.75 10.00,406.00 15.00,405.50 67.50,406.00 75.00,404.00 100.00,399.00 125.00,396.00 150.00,392.75 175.00,393.00 200.00,393.50 215.00,395.50 230.00,393.50 262.50,394.75 275.00,393.00 282.50,390.50 290.00,392.25 305.00,391.50 325.00,394.00 337.50,392.25 350.00,391.00 360.00,395.50 375.00,399.00 395.00,400.50 415.00,401.50 425.00,399.75 439.00,397.25 450.00,399.75 457.50,404.00 475.00,406.50 490.00,406.50 505.00,404.75 525.00,402.25 540.00,403.00 555.00,401.50 587.50,402.25 600.00,404.00 610.00,402.25 617.50,398.50 625.00,396.00 635.00,393.50" fill="none" stroke="#ff0000" stroke-width="1" />
<text x="8" y="390.5" font-size="9.5" fill="#000" stroke="#000" stroke-width="0.15" text-anchor="start" textLength="28.6" lengthAdjust="spacingAndGlyphs" >RSI(14)</text>
<text x="40.7" y="390.5" font-size="9.5" fill="#000" stroke="#000" stroke-width="0.15" text-anchor="start" textLength="33.6" lengthAdjust="spacingAndGlyphs" >75.6295</text>
<text x="81.8" y="390.5" font-size="9.5" fill="#000" stroke="#000" stroke-width="0.15" text-anchor="start" textLength="35.2" lengthAdjust="spacingAndGlyphs" >-&gt;MA(9)</text>
<text x="120.7" y="390.5" font-size="9.5" fill="#000" stroke="#000" stroke-width="0.15" text-anchor="start" textLength="31.3" lengthAdjust="spacingAndGlyphs" >70.0617</text>
<text x="664.5" y="388" font-size="9.5" fill="#000" stroke="#000" stroke-width="0.15" text-anchor="start" textLength="14.2" lengthAdjust="spacingAndGlyphs" >100</text>
<text x="663.4" y="397" font-size="9.5" fill="#000" stroke="#000" stroke-width="0.15" text-anchor="start" textLength="9.6" lengthAdjust="spacingAndGlyphs" >70</text>
<text x="663.4" y="406" font-size="9.5" fill="#000" stroke="#000" stroke-width="0.15" text-anchor="start" textLength="9.6" lengthAdjust="spacingAndGlyphs" >50</text>
<text x="663.4" y="416" font-size="9.5" fill="#000" stroke="#000" stroke-width="0.15" text-anchor="start" textLength="9.6" lengthAdjust="spacingAndGlyphs" >30</text>
<text x="664.3" y="424" font-size="9.5" fill="#000" stroke="#000" stroke-width="0.15" text-anchor="start" textLength="4.4" lengthAdjust="spacingAndGlyphs" >0</text>
<rect x="661" y="379" width="1" height="1" fill="#000"/>
<rect x="661" y="393" width="1" height="1" fill="#000"/>
<rect x="661" y="402" width="1" height="1" fill="#000"/>
<rect x="661" y="412" width="1" height="1" fill="#000"/>
<rect x="661" y="425" width="1" height="1" fill="#000"/>
<line x1="4" y1="441.5" x2="660" y2="441.5" stroke="#c0c0c0" stroke-dasharray="3,3"/>
<line x1="4" y1="456.5" x2="660" y2="456.5" stroke="#c0c0c0" stroke-dasharray="3,3"/>
<line x1="4" y1="472.5" x2="660" y2="472.5" stroke="#c0c0c0" stroke-dasharray="3,3"/>
<polyline points="3.50,462.18 7.50,455.64 11.50,449.11 15.50,442.57 19.50,445.80 23.50,450.42 27.50,462.59 31.50,468.88 35.50,472.62 39.50,465.62 43.50,458.19 47.50,450.50 51.50,459.61 55.50,462.50 59.50,468.00 63.50,462.44 67.50,462.50 71.50,456.77 75.50,450.92 79.50,444.25 83.50,439.37 87.50,439.83 91.50,440.11 95.50,440.30 99.50,440.48 103.50,446.62 107.50,452.90 111.50,457.98 115.50,458.18 119.50,452.65 123.50,446.54 127.50,443.38 131.50,441.83 135.50,440.06 139.50,437.95 143.50,433.55 147.50,434.17 151.50,436.65 155.50,441.05 159.50,445.45 163.50,444.77 167.50,446.75 171.50,450.75 175.50,452.22 179.50,455.05 183.50,451.45 187.50,451.75 191.50,446.75 195.50,445.50 199.50,445.50 203.50,449.15 207.50,454.75 211.50,462.03 215.50,464.25 219.50,458.69 223.50,447.50 227.50,439.88 231.50,438.62 235.50,442.62 239.50,451.45 243.50,459.05 247.50,462.62 251.50,457.17 255.50,448.81 259.50,441.21 263.50,441.85 267.50,439.25 271.50,439.77 275.50,437.92 279.50,437.20 283.50,439.10 287.50,445.50 291.50,451.75 295.50,458.00 299.50,450.22 303.50,443.34 307.50,444.25 311.50,446.62 315.50,451.07 319.50,451.68 323.50,456.12 327.50,456.75 331.50,451.23 335.50,443.06 339.50,440.14 343.50,441.80 347.50,445.00 351.50,446.59 355.50,455.75 359.50,469.00 363.50,477.00 367.50,477.12 371.50,473.00 375.50,465.50 379.50,456.12 383.50,451.12 387.50,460.50 391.50,467.50 395.50,463.50 399.50,460.81 403.50,460.50 407.50,463.00 411.50,460.60 415.50,459.36 419.50,451.38 423.50,444.35 427.50,438.50 431.50,438.50 435.50,438.50 439.50,439.70 443.50,449.30 447.50,471.75 451.50,476.16 455.50,476.70 459.50,472.30 463.50,469.56 467.50,463.12 471.50,459.50 475.50,458.95 479.50,460.25 483.50,462.25 487.50,461.12 491.50,458.62 495.50,456.96 499.50,450.19 503.50,443.42 507.50,436.75 511.50,438.50 515.50,438.98 519.50,442.81 523.50,449.72 527.50,465.50 531.50,473.28 535.50,474.25 539.50,466.47 543.50,455.88 547.50,447.38 551.50,442.53 555.50,444.43 559.50,453.00 563.50,463.00 567.50,473.00 571.50,467.00 575.50,460.25 579.50,455.25 583.50,455.14 587.50,463.00 591.50,468.67 595.50,470.45 599.50,466.05 603.50,455.00 607.50,445.25 611.50,438.65 615.50,435.38 619.50,434.38 623.50,435.48 627.50,436.00 631.50,436.45 635.50,437.50" fill="none" stroke="#20b2aa" stroke-width="1" />
<polyline points="3.50,467.50 8.80,460.37 10.80,457.28 12.80,454.01 14.80,450.74 16.80,447.47 18.80,444.36 20.80,443.10 22.80,444.64 24.80,446.95 26.80,449.39 28.80,453.26 30.80,459.17 32.80,464.36 34.80,467.55 36.80,470.20 38.80,471.99 40.80,470.70 42.80,467.38 44.80,463.83 46.80,460.11 48.80,456.27 50.80,452.91 52.80,453.49 54.80,457.51 56.80,460.23 58.80,461.85 60.80,463.95 62.80,466.32 64.80,466.30 66.80,463.92 68.80,462.30 70.80,462.10 72.80,460.88 74.80,458.20 76.80,455.33 78.80,452.40 80.80,449.24 82.80,445.92 84.80,442.58 86.80,440.04 88.80,439.48 90.80,439.71 92.80,439.92 94.80,440.06 96.80,440.16 98.80,440.25 100.80,440.34 102.80,440.53 104.80,441.85 106.80,444.88 108.80,448.35 110.80,451.50 112.80,454.17 114.80,456.71 116.80,458.53 118.80,458.47 120.80,456.91 122.80,454.18 124.80,451.12 126.80,448.07 128.80,445.34 130.80,443.79 132.80,443.02 134.80,442.25 136.80,441.39 138.80,440.50 140.80,439.61 142.80,438.54 144.80,436.81 146.80,434.73 148.80,433.56 150.80,433.83 152.80,434.54 154.80,435.76 156.80,437.75 158.80,439.95 160.80,442.15 162.80,444.27 164.80,445.42 166.80,445.12 168.80,444.80 170.80,445.82 172.80,447.75 174.80,449.75 176.80,451.31 178.80,452.01 180.80,453.21 182.80,454.52 184.80,454.05 186.80,452.41 188.80,451.42 190.80,451.37 192.80,450.34 194.80,448.00 196.80,446.06 198.80,445.50 200.80,445.50 202.80,445.56 204.80,446.31 206.80,448.10 208.80,450.24 210.80,453.02 212.80,456.75 214.80,460.35 216.80,462.50 218.80,463.48 220.80,462.65 222.80,459.99 224.80,456.05 226.80,450.50 228.80,444.99 230.80,441.22 232.80,439.04 234.80,438.46 236.80,438.99 238.80,440.93 240.80,444.87 242.80,449.28 244.80,453.33 246.80,457.09 248.80,460.06 250.80,461.74 252.80,461.50 254.80,458.83 256.80,455.25 258.80,451.04 260.80,446.58 262.80,442.85 264.80,441.79 266.80,442.02 268.80,441.20 270.80,440.00 272.80,439.56 274.80,439.71 276.80,439.27 278.80,438.38 280.80,437.52 282.80,437.16 284.80,437.30 286.80,438.17 288.80,440.70 290.80,443.90 292.80,447.06 294.80,450.19 296.80,453.31 298.80,456.05 300.80,455.67 302.80,452.18 304.80,448.48 306.80,445.15 308.80,443.36 310.80,443.75 312.80,444.75 314.80,445.96 316.80,447.92 318.80,450.07 320.80,451.16 322.80,451.59 324.80,452.68 326.80,454.81 328.80,456.40 330.80,456.75 332.80,456.14 334.80,453.31 336.80,449.02 338.80,444.97 340.80,442.26 342.80,440.76 344.80,440.49 346.80,441.23 348.80,442.60 350.80,444.08 352.80,444.68 354.80,445.55 356.80,448.26 358.80,452.79 360.80,459.25 362.80,465.83 364.80,470.92 366.80,474.87 368.80,477.25 370.80,477.37 372.80,476.53 374.80,474.43 376.80,471.44 378.80,467.72 380.80,463.00 382.80,458.35 384.80,454.94 386.80,452.60 388.80,453.07 390.80,457.56 392.80,462.56 394.80,466.06 396.80,466.33 398.80,464.52 400.80,462.79 402.80,461.47 404.80,460.67 406.80,460.54 408.80,461.06 410.80,462.14 412.80,462.25 414.80,461.20 416.80,460.17 418.80,459.46 420.80,457.56 422.80,453.62 424.80,449.34 426.80,445.85 428.80,442.88 430.80,440.12 432.80,438.66 434.80,438.50 436.80,438.50 438.80,438.50 440.80,438.50 442.80,439.17 444.80,442.23 446.80,447.10 448.80,454.56 450.80,465.14 452.80,472.42 454.80,475.14 456.80,476.42 458.80,476.70 460.80,475.52 462.80,473.43 464.80,471.57 466.80,470.12 468.80,468.06 470.80,464.88 472.80,461.75 474.80,459.97 476.80,459.14 478.80,458.84 480.80,459.25 482.80,459.91 484.80,460.76 486.80,461.75 488.80,462.40 490.80,461.81 492.80,460.39 494.80,459.13 496.80,458.21 498.80,457.29 500.80,455.41 502.80,452.07 504.80,448.47 506.80,445.08 508.80,441.75 510.80,438.66 512.80,437.49 514.80,438.11 516.80,438.47 518.80,438.77 520.80,439.99 522.80,441.85 524.80,444.11 526.80,447.60 528.80,452.69 530.80,460.32 532.80,467.10 534.80,471.23 536.80,473.71 538.80,474.03 540.80,472.09 542.80,468.37 544.80,463.90 546.80,458.62 548.80,453.40 550.80,449.18 552.80,445.70 554.80,443.24 556.80,442.34 558.80,443.23 560.80,446.29 562.80,450.58 564.80,455.50 566.80,460.50 568.80,465.50 570.80,470.06 572.80,471.06 574.80,468.50 576.80,465.39 578.80,462.00 580.80,458.61 582.80,456.11 584.80,454.50 586.80,454.29 588.80,457.26 590.80,461.20 592.80,464.67 594.80,467.56 596.80,469.33 598.80,470.18 600.80,469.25 602.80,467.04 604.80,463.47 606.80,458.00 608.80,452.25 610.80,447.40 612.80,443.22 614.80,439.88 616.80,437.75 618.80,436.13 620.80,435.16 622.80,434.66 624.80,434.59 626.80,435.13 628.80,435.73 630.80,435.98 632.80,436.02 634.80,436.23" fill="none" stroke="#ff0000" stroke-width="1" stroke-dasharray="3,3" />
<text x="8" y="442" font-size="9.5" fill="#000" stroke="#000" stroke-width="0.15" text-anchor="start" textLength="48" lengthAdjust="spacingAndGlyphs" >Stoch(5,3,3)</text>
<text x="59.9" y="442" font-size="9.5" fill="#000" stroke="#000" stroke-width="0.15" text-anchor="start" textLength="32.7" lengthAdjust="spacingAndGlyphs" >85.8639</text>
<text x="96" y="442" font-size="9.5" fill="#000" stroke="#000" stroke-width="0.15" text-anchor="start" textLength="32.5" lengthAdjust="spacingAndGlyphs" >87.8977</text>
<text x="664.5" y="439.5" font-size="9.5" fill="#000" stroke="#000" stroke-width="0.15" text-anchor="start" textLength="14.2" lengthAdjust="spacingAndGlyphs" >100</text>
<text x="663.4" y="445" font-size="9.5" fill="#000" stroke="#000" stroke-width="0.15" text-anchor="start" textLength="9.4" lengthAdjust="spacingAndGlyphs" >80</text>
<text x="663.4" y="460" font-size="9.5" fill="#000" stroke="#000" stroke-width="0.15" text-anchor="start" textLength="9.4" lengthAdjust="spacingAndGlyphs" >50</text>
<text x="663.4" y="476" font-size="9.5" fill="#000" stroke="#000" stroke-width="0.15" text-anchor="start" textLength="9.4" lengthAdjust="spacingAndGlyphs" >20</text>
<text x="664.3" y="480" font-size="9.5" fill="#000" stroke="#000" stroke-width="0.15" text-anchor="start" textLength="4.4" lengthAdjust="spacingAndGlyphs" >0</text>
<rect x="661" y="431" width="1" height="1" fill="#000"/>
<rect x="661" y="441" width="1" height="1" fill="#000"/>
<rect x="661" y="456" width="1" height="1" fill="#000"/>
<rect x="661" y="472" width="1" height="1" fill="#000"/>
<rect x="661" y="481" width="1" height="1" fill="#000"/>
<line x1="4" y1="522.5" x2="660" y2="522.5" stroke="#c0c0c0" stroke-dasharray="3,3"/>
<rect x="3" y="522" width="1" height="11" fill="#0000ff"/>
<rect x="7" y="522" width="1" height="10" fill="#0000ff"/>
<rect x="11" y="522" width="1" height="9" fill="#0000ff"/>
<rect x="15" y="522" width="1" height="9" fill="#0000ff"/>
<rect x="19" y="522" width="1" height="8" fill="#0000ff"/>
<rect x="23" y="522" width="1" height="8" fill="#0000ff"/>
<rect x="27" y="522" width="1" height="8" fill="#0000ff"/>
<rect x="31" y="522" width="1" height="8" fill="#0000ff"/>
<rect x="35" y="522" width="1" height="8" fill="#0000ff"/>
<rect x="39" y="522" width="1" height="8" fill="#0000ff"/>
<rect x="43" y="522" width="1" height="8" fill="#0000ff"/>
<rect x="47" y="522" width="1" height="8" fill="#0000ff"/>
<rect x="51" y="522" width="1" height="8" fill="#0000ff"/>
<rect x="55" y="522" width="1" height="8" fill="#0000ff"/>
<rect x="59" y="522" width="1" height="8" fill="#0000ff"/>
<rect x="63" y="522" width="1" height="8" fill="#0000ff"/>
<rect x="67" y="522" width="1" height="9" fill="#0000ff"/>
<rect x="71" y="522" width="1" height="9" fill="#0000ff"/>
<rect x="75" y="522" width="1" height="7" fill="#0000ff"/>
<rect x="79" y="522" width="1" height="3" fill="#0000ff"/>
<rect x="87" y="519" width="1" height="4" fill="#0000ff"/>
<rect x="91" y="516" width="1" height="7" fill="#0000ff"/>
<rect x="95" y="514" width="1" height="9" fill="#0000ff"/>
<rect x="99" y="512" width="1" height="11" fill="#0000ff"/>
<rect x="103" y="512" width="1" height="11" fill="#0000ff"/>
<rect x="107" y="510" width="1" height="13" fill="#0000ff"/>
<rect x="111" y="510" width="1" height="13" fill="#0000ff"/>
<rect x="115" y="508" width="1" height="15" fill="#0000ff"/>
<rect x="119" y="507" width="1" height="16" fill="#0000ff"/>
<rect x="123" y="507" width="1" height="16" fill="#0000ff"/>
<rect x="127" y="506" width="1" height="17" fill="#0000ff"/>
<rect x="131" y="505" width="1" height="18" fill="#0000ff"/>
<rect x="135" y="503" width="1" height="20" fill="#0000ff"/>
<rect x="139" y="502" width="1" height="21" fill="#0000ff"/>
<rect x="143" y="500" width="1" height="23" fill="#0000ff"/>
<rect x="147" y="498" width="1" height="25" fill="#0000ff"/>
<rect x="151" y="498" width="1" height="25" fill="#0000ff"/>
<rect x="155" y="498" width="1" height="25" fill="#0000ff"/>
<rect x="159" y="497" width="1" height="26" fill="#0000ff"/>
<rect x="163" y="496" width="1" height="27" fill="#0000ff"/>
<rect x="167" y="496" width="1" height="27" fill="#0000ff"/>
<rect x="171" y="496" width="1" height="27" fill="#0000ff"/>
<rect x="175" y="496" width="1" height="27" fill="#0000ff"/>
<rect x="179" y="496" width="1" height="27" fill="#0000ff"/>
<rect x="183" y="496" width="1" height="27" fill="#0000ff"/>
<rect x="187" y="497" width="1" height="26" fill="#0000ff"/>
<rect x="191" y="497" width="1" height="26" fill="#0000ff"/>
<rect x="195" y="498" width="1" height="25" fill="#0000ff"/>
<rect x="199" y="499" width="1" height="24" fill="#0000ff"/>
<rect x="203" y="500" width="1" height="23" fill="#0000ff"/>
<rect x="207" y="501" width="1" height="22" fill="#0000ff"/>
<rect x="211" y="502" width="1" height="21" fill="#0000ff"/>
<rect x="215" y="503" width="1" height="20" fill="#0000ff"/>
<rect x="219" y="504" width="1" height="19" fill="#0000ff"/>
<rect x="223" y="503" width="1" height="20" fill="#0000ff"/>
<rect x="227" y="502" width="1" height="21" fill="#0000ff"/>
<rect x="231" y="502" width="1" height="21" fill="#0000ff"/>
<rect x="235" y="502" width="1" height="21" fill="#0000ff"/>
<rect x="239" y="502" width="1" height="21" fill="#0000ff"/>
<rect x="243" y="504" width="1" height="19" fill="#0000ff"/>
<rect x="247" y="504" width="1" height="19" fill="#0000ff"/>
<rect x="251" y="505" width="1" height="18" fill="#0000ff"/>
<rect x="255" y="505" width="1" height="18" fill="#0000ff"/>
<rect x="259" y="505" width="1" height="18" fill="#0000ff"/>
<rect x="263" y="506" width="1" height="17" fill="#0000ff"/>
<rect x="267" y="505" width="1" height="18" fill="#0000ff"/>
<rect x="271" y="504" width="1" height="19" fill="#0000ff"/>
<rect x="275" y="504" width="1" height="19" fill="#0000ff"/>
<rect x="279" y="500" width="1" height="23" fill="#0000ff"/>
<rect x="283" y="498" width="1" height="25" fill="#0000ff"/>
<rect x="287" y="497" width="1" height="26" fill="#0000ff"/>
<rect x="291" y="497" width="1" height="26" fill="#0000ff"/>
<rect x="295" y="496" width="1" height="27" fill="#0000ff"/>
<rect x="299" y="495" width="1" height="28" fill="#0000ff"/>
<rect x="303" y="492" width="1" height="31" fill="#0000ff"/>
<rect x="307" y="494" width="1" height="29" fill="#0000ff"/>
<rect x="311" y="492" width="1" height="31" fill="#0000ff"/>
<rect x="315" y="492" width="1" height="31" fill="#0000ff"/>
<rect x="319" y="494" width="1" height="29" fill="#0000ff"/>
<rect x="323" y="494" width="1" height="29" fill="#0000ff"/>
<rect x="327" y="494" width="1" height="29" fill="#0000ff"/>
<rect x="331" y="495" width="1" height="28" fill="#0000ff"/>
<rect x="335" y="492" width="1" height="31" fill="#0000ff"/>
<rect x="339" y="491" width="1" height="32" fill="#0000ff"/>
<rect x="343" y="491" width="1" height="32" fill="#0000ff"/>
<rect x="347" y="491" width="1" height="32" fill="#0000ff"/>
<rect x="351" y="490" width="1" height="33" fill="#0000ff"/>
<rect x="355" y="493" width="1" height="30" fill="#0000ff"/>
<rect x="359" y="498" width="1" height="25" fill="#0000ff"/>
<rect x="363" y="502" width="1" height="21" fill="#0000ff"/>
<rect x="367" y="504" width="1" height="19" fill="#0000ff"/>
<rect x="371" y="506" width="1" height="17" fill="#0000ff"/>
<rect x="375" y="507" width="1" height="16" fill="#0000ff"/>
<rect x="379" y="508" width="1" height="15" fill="#0000ff"/>
<rect x="383" y="510" width="1" height="13" fill="#0000ff"/>
<rect x="387" y="512" width="1" height="11" fill="#0000ff"/>
<rect x="391" y="514" width="1" height="9" fill="#0000ff"/>
<rect x="395" y="514" width="1" height="9" fill="#0000ff"/>
<rect x="399" y="515" width="1" height="8" fill="#0000ff"/>
<rect x="403" y="517" width="1" height="6" fill="#0000ff"/>
<rect x="407" y="517" width="1" height="6" fill="#0000ff"/>
<rect x="411" y="518" width="1" height="5" fill="#0000ff"/>
<rect x="415" y="519" width="1" height="4" fill="#0000ff"/>
<rect x="419" y="516" width="1" height="7" fill="#0000ff"/>
<rect x="423" y="514" width="1" height="9" fill="#0000ff"/>
<rect x="427" y="514" width="1" height="9" fill="#0000ff"/>
<rect x="431" y="511" width="1" height="12" fill="#0000ff"/>
<rect x="435" y="510" width="1" height="13" fill="#0000ff"/>
<rect x="439" y="509" width="1" height="14" fill="#0000ff"/>
<rect x="443" y="510" width="1" height="13" fill="#0000ff"/>
<rect x="447" y="514" width="1" height="9" fill="#0000ff"/>
<rect x="451" y="520" width="1" height="3" fill="#0000ff"/>
<rect x="455" y="522" width="1" height="4" fill="#0000ff"/>
<rect x="459" y="522" width="1" height="6" fill="#0000ff"/>
<rect x="463" y="522" width="1" height="9" fill="#0000ff"/>
<rect x="467" y="522" width="1" height="10" fill="#0000ff"/>
<rect x="471" y="522" width="1" height="12" fill="#0000ff"/>
<rect x="475" y="522" width="1" height="13" fill="#0000ff"/>
<rect x="479" y="522" width="1" height="14" fill="#0000ff"/>
<rect x="483" y="522" width="1" height="14" fill="#0000ff"/>
<rect x="487" y="522" width="1" height="15" fill="#0000ff"/>
<rect x="491" y="522" width="1" height="15" fill="#0000ff"/>
<rect x="495" y="522" width="1" height="14" fill="#0000ff"/>
<rect x="499" y="522" width="1" height="13" fill="#0000ff"/>
<rect x="503" y="522" width="1" height="11" fill="#0000ff"/>
<rect x="507" y="522" width="1" height="8" fill="#0000ff"/>
<rect x="511" y="522" width="1" height="6" fill="#0000ff"/>
<rect x="515" y="522" width="1" height="5" fill="#0000ff"/>
<rect x="519" y="522" width="1" height="4" fill="#0000ff"/>
<rect x="523" y="522" width="1" height="3" fill="#0000ff"/>
<rect x="527" y="522" width="1" height="4" fill="#0000ff"/>
<rect x="531" y="522" width="1" height="4" fill="#0000ff"/>
<rect x="535" y="522" width="1" height="4" fill="#0000ff"/>
<rect x="539" y="522" width="1" height="3" fill="#0000ff"/>
<rect x="543" y="522" width="1" height="3" fill="#0000ff"/>
<rect x="555" y="521" width="1" height="2" fill="#0000ff"/>
<rect x="559" y="521" width="1" height="2" fill="#0000ff"/>
<rect x="591" y="522" width="1" height="2" fill="#0000ff"/>
<rect x="595" y="522" width="1" height="2" fill="#0000ff"/>
<rect x="599" y="522" width="1" height="2" fill="#0000ff"/>
<rect x="603" y="522" width="1" height="2" fill="#0000ff"/>
<rect x="615" y="515" width="1" height="8" fill="#0000ff"/>
<rect x="619" y="510" width="1" height="13" fill="#0000ff"/>
<rect x="623" y="506" width="1" height="17" fill="#0000ff"/>
<rect x="627" y="501" width="1" height="22" fill="#0000ff"/>
<rect x="631" y="498" width="1" height="25" fill="#0000ff"/>
<rect x="635" y="497" width="1" height="26" fill="#0000ff"/>
<polyline points="3.00,526.50 10.00,529.50 20.00,530.75 37.00,530.25 62.00,529.00 75.00,528.50 87.00,526.00 95.00,522.75 105.00,517.75 115.00,514.00 125.00,510.25 135.00,507.75 145.00,504.00 155.00,501.00 165.00,498.50 175.00,496.00 200.00,496.50 212.00,498.50 225.00,500.25 237.00,501.50 260.00,502.00 270.00,503.50 280.00,502.75 287.00,501.00 300.00,497.75 312.00,494.50 325.00,493.50 337.00,492.50 350.00,491.00 365.00,493.50 375.00,497.75 387.00,504.00 400.00,509.50 412.00,513.50 425.00,515.25 437.00,513.50 450.00,512.00 457.00,514.00 467.00,519.00 475.00,524.50 485.00,531.00 495.00,534.75 505.00,534.75 515.00,532.75 525.00,529.50 535.00,527.00 545.00,525.25 555.00,524.00 565.00,523.00 575.00,522.00 600.00,522.25 612.00,521.50 620.00,519.00 627.00,515.25 635.00,511.00" fill="none" stroke="#ff0000" stroke-width="1" stroke-dasharray="3,3" />
<text x="8" y="498" font-size="9.5" fill="#000" stroke="#000" stroke-width="0.15" text-anchor="start" textLength="65.6" lengthAdjust="spacingAndGlyphs" >MACD(12,26,9)</text>
<text x="76.6" y="498" font-size="9.5" fill="#000" stroke="#000" stroke-width="0.15" text-anchor="start" textLength="22.8" lengthAdjust="spacingAndGlyphs" >0.599</text>
<text x="102.4" y="498" font-size="9.5" fill="#000" stroke="#000" stroke-width="0.15" text-anchor="start" textLength="22.9" lengthAdjust="spacingAndGlyphs" >0.279</text>
<text x="664.5" y="496" font-size="9.5" fill="#000" stroke="#000" stroke-width="0.15" text-anchor="start" textLength="22" lengthAdjust="spacingAndGlyphs" >0.811</text>
<text x="663.4" y="526" font-size="9.5" fill="#000" stroke="#000" stroke-width="0.15" text-anchor="start" textLength="18.2" lengthAdjust="spacingAndGlyphs" >0.00</text>
<text x="663.9" y="526" font-size="9.5" fill="#000" stroke="#000" stroke-width="0.15" text-anchor="start" textLength="4.6" lengthAdjust="spacingAndGlyphs" >0</text>
<text x="664.3" y="536" font-size="9.5" fill="#000" stroke="#000" stroke-width="0.15" text-anchor="start" textLength="25.4" lengthAdjust="spacingAndGlyphs" >-0.382</text>
<rect x="661" y="487" width="1" height="1" fill="#000"/>
<rect x="661" y="522" width="1" height="1" fill="#000"/>
<rect x="661" y="538" width="1" height="1" fill="#000"/>
<rect x="3" y="540" width="1" height="3" fill="#000"/>
<text x="2.7" y="552" font-size="9.5" fill="#000" stroke="#000" stroke-width="0.15" text-anchor="start" textLength="49" lengthAdjust="spacingAndGlyphs" >4 May 2020</text>
<rect x="67" y="540" width="1" height="3" fill="#000"/>
<text x="66.7" y="552" font-size="9.5" fill="#000" stroke="#000" stroke-width="0.15" text-anchor="start" textLength="52" lengthAdjust="spacingAndGlyphs" >4 May 13:00</text>
<rect x="131" y="540" width="1" height="3" fill="#000"/>
<text x="130.7" y="552" font-size="9.5" fill="#000" stroke="#000" stroke-width="0.15" text-anchor="start" textLength="52" lengthAdjust="spacingAndGlyphs" >4 May 21:00</text>
<rect x="195" y="540" width="1" height="3" fill="#000"/>
<text x="194.7" y="552" font-size="9.5" fill="#000" stroke="#000" stroke-width="0.15" text-anchor="start" textLength="52" lengthAdjust="spacingAndGlyphs" >5 May 06:00</text>
<rect x="259" y="540" width="1" height="3" fill="#000"/>
<text x="258.7" y="552" font-size="9.5" fill="#000" stroke="#000" stroke-width="0.15" text-anchor="start" textLength="52" lengthAdjust="spacingAndGlyphs" >5 May 14:00</text>
<rect x="323" y="540" width="1" height="3" fill="#000"/>
<text x="322.7" y="552" font-size="9.5" fill="#000" stroke="#000" stroke-width="0.15" text-anchor="start" textLength="52" lengthAdjust="spacingAndGlyphs" >5 May 22:00</text>
<rect x="387" y="540" width="1" height="3" fill="#000"/>
<text x="386.7" y="552" font-size="9.5" fill="#000" stroke="#000" stroke-width="0.15" text-anchor="start" textLength="52" lengthAdjust="spacingAndGlyphs" >6 May 07:00</text>
<rect x="451" y="540" width="1" height="3" fill="#000"/>
<text x="450.7" y="552" font-size="9.5" fill="#000" stroke="#000" stroke-width="0.15" text-anchor="start" textLength="52" lengthAdjust="spacingAndGlyphs" >6 May 15:00</text>
<rect x="515" y="540" width="1" height="3" fill="#000"/>
<text x="514.7" y="552" font-size="9.5" fill="#000" stroke="#000" stroke-width="0.15" text-anchor="start" textLength="52" lengthAdjust="spacingAndGlyphs" >6 May 23:00</text>
<rect x="579" y="540" width="1" height="3" fill="#000"/>
<text x="578.7" y="552" font-size="9.5" fill="#000" stroke="#000" stroke-width="0.15" text-anchor="start" textLength="52" lengthAdjust="spacingAndGlyphs" >7 May 08:00</text>
</svg>
</body></html>
